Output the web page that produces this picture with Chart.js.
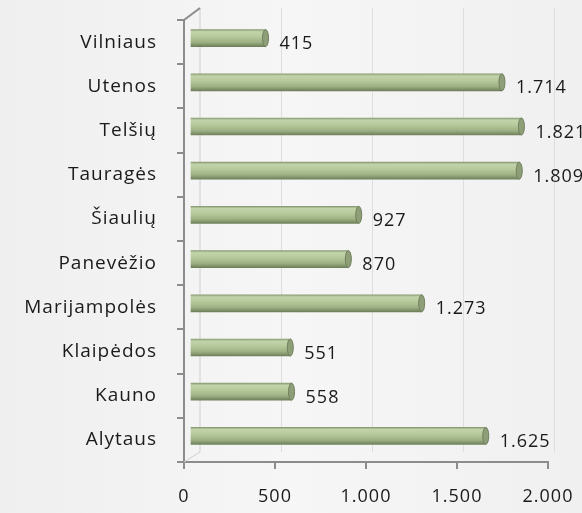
<!DOCTYPE html>
<html><head><meta charset="utf-8">
<script src="https://cdn.jsdelivr.net/npm/chart.js@4"></script>
<style>
html,body{margin:0;padding:0;background:#f2f2f2;}
#wrap{width:582px;height:513px;position:relative;background:linear-gradient(90deg,#efefef,#f6f6f6 50%,#f0f0f0);}
</style></head>
<body><div id="wrap"><canvas id="c" width="582" height="513"></canvas></div>
<script>
const categories = ["Alytaus","Kauno","Klaipėdos","Marijampolės","Panevėžio","Šiaulių","Tauragės","Telšių","Utenos","Vilniaus"];
const values = [1625, 558, 551, 1273, 870, 927, 1809, 1821, 1714, 415];
const xTicks = [0, 500, 1000, 1500, 2000];

const fmt = v => String(v).replace(/\B(?=(\d{3})+(?!\d))/g, '.');
const DX = 6, DY = -4;
const FONT = "'Open Sans', sans-serif";
const SPACING = '1px';

const spacingPlugin = {
  id: 'spacing',
  beforeUpdate(chart) { chart.ctx.letterSpacing = SPACING; },
  beforeLayout(chart) { chart.ctx.letterSpacing = SPACING; },
  beforeDraw(chart) { chart.ctx.letterSpacing = SPACING; }
};

const depthPlugin = {
  id: 'depth',
  beforeDatasetsDraw(chart) {
    const ctx = chart.ctx, a = chart.chartArea, x = chart.scales.x;
    ctx.save();
    ctx.strokeStyle = '#dedede'; ctx.lineWidth = 1;
    xTicks.forEach(t => {
      if (t === 0) return;
      const px = Math.round(x.getPixelForValue(t)) + DX + 0.5;
      ctx.beginPath(); ctx.moveTo(px, a.top + DY - 8); ctx.lineTo(px, a.bottom + DY - 6); ctx.stroke();
    });
    ctx.strokeStyle = '#d0d0d0';
    const x0 = a.left + DX + 10;
    ctx.beginPath(); ctx.moveTo(x0, a.top - 12); ctx.lineTo(x0, a.bottom - 10); ctx.stroke();
    ctx.beginPath(); ctx.moveTo(a.left, a.bottom); ctx.lineTo(x0, a.bottom - 10); ctx.stroke();
    ctx.strokeStyle = '#8c8c8c'; ctx.lineWidth = 2;
    ctx.beginPath(); ctx.moveTo(a.left, a.top); ctx.lineTo(x0, a.top - 12); ctx.stroke();
    ctx.restore();
    ctx.save();
    ctx.translate(DX, DY);
  },
  afterDatasetsDraw(chart) {
    const ctx = chart.ctx;
    const meta = chart.getDatasetMeta(0);
    meta.data.forEach(bar => {
      const h = bar.height;
      ctx.beginPath();
      ctx.ellipse(bar.x, bar.y, 3, h / 2, 0, 0, Math.PI * 2);
      ctx.fillStyle = '#8e9f78'; ctx.fill();
      ctx.strokeStyle = '#6f7f5d'; ctx.lineWidth = 1; ctx.stroke();
    });
    ctx.restore();
    ctx.save();
    ctx.font = "18px " + FONT;
    ctx.fillStyle = '#1a1a1a';
    ctx.textBaseline = 'middle';
    meta.data.forEach((bar, i) => {
      ctx.fillText(fmt(values[i]), bar.x + DX + 14, bar.y + DY + 6);
    });
    ctx.restore();
  }
};

function barGradient(ctx) {
  const chart = ctx.chart;
  const y = chart.scales && chart.scales.y;
  if (!y || !chart.chartArea) return '#a9bd8f';
  const cy = y.getPixelForValue(ctx.dataIndex);
  const h = 17;
  const g = chart.ctx.createLinearGradient(0, cy - h / 2, 0, cy + h / 2);
  g.addColorStop(0, '#8a9c74');
  g.addColorStop(0.12, '#c2d3aa');
  g.addColorStop(0.4, '#b7ca9c');
  g.addColorStop(0.75, '#9db083');
  g.addColorStop(1, '#6e805a');
  return g;
}

new Chart(document.getElementById('c'), {
  type: 'bar',
  data: {
    labels: categories,
    datasets: [{
      data: values,
      backgroundColor: barGradient,
      borderWidth: 0,
      barThickness: 17
    }]
  },
  options: {
    indexAxis: 'y',
    responsive: false,
    animation: false,
    layout: { padding: { top: 20, right: 34, left: 0, bottom: 0 } },
    plugins: { legend: { display: false }, tooltip: { enabled: false } },
    scales: {
      x: {
        min: 0, max: 2000,
        afterBuildTicks: s => { s.ticks = xTicks.map(v => ({ value: v })); },
        afterFit: s => { s.height = 51; s.paddingLeft = 0; s.paddingRight = 0; },
        grid: { drawOnChartArea: false, drawTicks: true, tickLength: 7, color: '#8c8c8c', lineWidth: 2 },
        border: { color: '#8c8c8c', width: 2 },
        ticks: { callback: v => fmt(v), font: { size: 18, family: FONT }, color: '#1a1a1a', padding: 17, maxRotation: 0 }
      },
      y: {
        reverse: true,
        afterFit: s => { s.width = 184; s.paddingTop = 0; s.paddingBottom = 0; },
        grid: { offset: true, drawOnChartArea: false, tickLength: 7, color: '#8c8c8c', lineWidth: 2 },
        border: { color: '#8c8c8c', width: 2 },
        ticks: { font: { size: 19, family: FONT }, color: '#1a1a1a', padding: 20 }
      }
    }
  },
  plugins: [spacingPlugin, depthPlugin]
});
</script></body></html>
